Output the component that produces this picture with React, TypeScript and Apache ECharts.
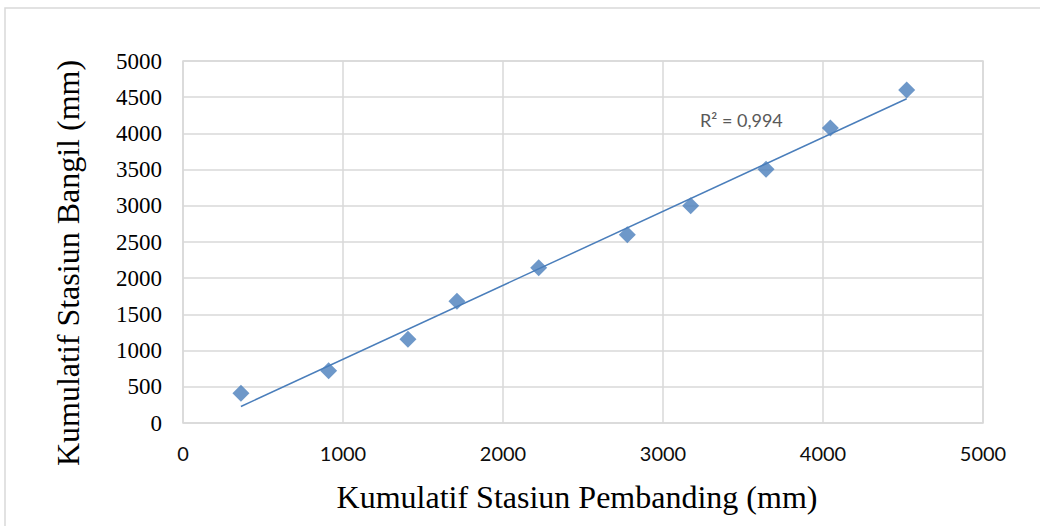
import React, { useEffect, useRef } from "react";
import * as echarts from "echarts";

const pembanding = [362, 910, 1406, 1712, 2223, 2777, 3173, 3644, 4046, 4523];
const bangil = [410, 722, 1156, 1681, 2145, 2601, 3001, 3504, 4075, 4599];
const xTicks = [0, 1000, 2000, 3000, 4000, 5000];
const yTicks = [0, 500, 1000, 1500, 2000, 2500, 3000, 3500, 4000, 4500, 5000];
const rSquaredLabel = "R² = 0,994";
const xTitle = "Kumulatif Stasiun Pembanding (mm)";
const yTitle = "Kumulatif Stasiun Bangil (mm)";

function fitLine(xs: number[], ys: number[]) {
  const n = xs.length;
  const mx = xs.reduce((a, b) => a + b, 0) / n;
  const my = ys.reduce((a, b) => a + b, 0) / n;
  let sxy = 0;
  let sxx = 0;
  for (let i = 0; i < n; i++) {
    sxy += (xs[i] - mx) * (ys[i] - my);
    sxx += (xs[i] - mx) * (xs[i] - mx);
  }
  const b = sxy / sxx;
  const a = my - b * mx;
  const x0 = Math.min(...xs);
  const x1 = Math.max(...xs);
  return [
    [x0, a + b * x0],
    [x1, a + b * x1],
  ];
}

export default function App() {
  const ref = useRef<HTMLDivElement>(null);
  useEffect(() => {
    if (!ref.current) return;
    const chart = echarts.init(ref.current, undefined, { renderer: "svg" });
    const serif = "'Liberation Serif', 'Times New Roman', serif";
    const sans = "Lato, 'Open Sans', sans-serif";
    const gridColor = "#d9d9d9";
    chart.setOption({
      animation: false,
      backgroundColor: "#ffffff",
      grid: { left: 183, right: 57, top: 61, bottom: 103, show: true, borderColor: gridColor, borderWidth: 1.5 },
      xAxis: {
        type: "value",
        min: xTicks[0],
        max: xTicks[xTicks.length - 1],
        interval: 1000,
        axisLine: { show: false },
        axisTick: { show: false },
        splitLine: { show: true, lineStyle: { color: gridColor, width: 1.5 } },
        axisLabel: { fontFamily: sans, fontSize: 20, color: "#0d0d0d", margin: 20, formatter: (v: number) => String(v) },
      },
      yAxis: {
        type: "value",
        min: yTicks[0],
        max: yTicks[yTicks.length - 1],
        interval: 500,
        axisLine: { show: false },
        axisTick: { show: false },
        splitLine: { show: true, lineStyle: { color: gridColor, width: 1.5 } },
        axisLabel: { fontFamily: serif, fontSize: 23, color: "#000000", margin: 21, formatter: (v: number) => String(v) },
      },
      graphic: [
        {
          type: "rect",
          shape: { x: 5, y: 8, width: 1100, height: 600 },
          style: { fill: "none", stroke: gridColor, lineWidth: 1.5 },
          silent: true,
          z: -10,
        },
        {
          type: "text",
          x: 577,
          y: 497,
          style: { text: xTitle, font: `32px ${serif}`, fill: "#000", align: "center", verticalAlign: "middle" },
        },
        {
          type: "text",
          x: 68,
          y: 263,
          rotation: Math.PI / 2,
          style: { text: yTitle, font: `32px ${serif}`, fill: "#000", align: "center", verticalAlign: "middle" },
        },
        {
          type: "text",
          x: 700,
          y: 120,
          style: { text: rSquaredLabel, font: `18px ${sans}`, fill: "#595959", align: "left", verticalAlign: "middle" },
        },
      ],
      series: [
        {
          type: "scatter",
          data: pembanding.map((x, i) => [x, bangil[i]]),
          symbol: "diamond",
          symbolSize: 17,
          itemStyle: { color: "#4a7ebb" },
          z: 3,
        },
        {
          type: "line",
          data: fitLine(pembanding, bangil),
          showSymbol: false,
          symbol: "none",
          lineStyle: { color: "#4a7ebb", width: 1.5 },
          z: 2,
        },
      ],
    });
    return () => chart.dispose();
  }, []);
  return <div ref={ref} style={{ position: "fixed", left: 0, top: 0, width: 1040, height: 526 }} />;
}
